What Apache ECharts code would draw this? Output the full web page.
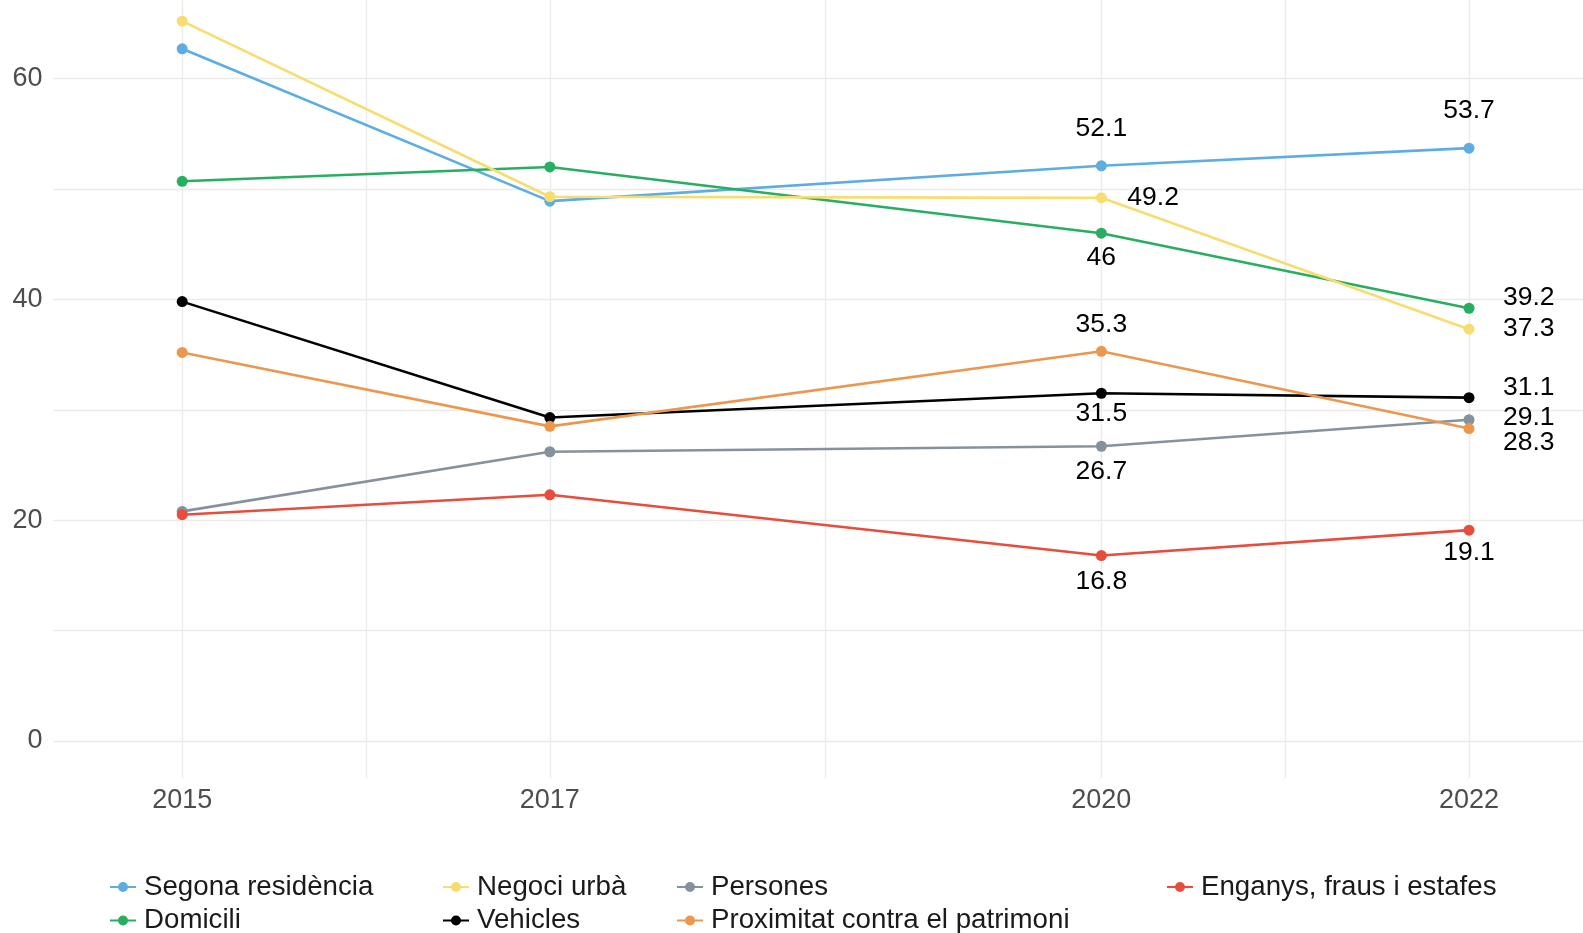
<!DOCTYPE html>
<html>
<head>
<meta charset="utf-8">
<script src="https://cdn.jsdelivr.net/npm/echarts@6/dist/echarts.min.js"></script>
<style>
  html, body { margin: 0; padding: 0; background: #fff; }
  #chart { width: 1583px; height: 933px; }
</style>
</head>
<body>
<div id="chart"></div>
<script>
// dades
var years = [2015, 2017, 2020, 2022];
var segona = [62.7, 48.9, 52.1, 53.7];
var domicili = [50.7, 52.0, 46.0, 39.2];
var negoci = [65.2, 49.3, 49.2, 37.3];
var vehicles = [39.8, 29.3, 31.5, 31.1];
var persones = [20.8, 26.2, 26.7, 29.1];
var proximitat = [35.2, 28.5, 35.3, 28.3];
var enganys = [20.5, 22.3, 16.8, 19.1];
var yTicks = [0, 20, 40, 60];
var yGrid = [0, 10, 20, 30, 40, 50, 60];
var xTicks = [2015, 2017, 2020, 2022];
var xGrid = [2015, 2016, 2017, 2018.5, 2020, 2021, 2022];

var FONT = 'Liberation Sans';

var series_def = [
  { name: 'Segona residència', data: segona, color: '#5DADE2' },
  { name: 'Domicili', data: domicili, color: '#27AE60' },
  { name: 'Negoci urbà', data: negoci, color: '#F7DC6F' },
  { name: 'Vehicles', data: vehicles, color: '#000000' },
  { name: 'Persones', data: persones, color: '#85929E' },
  { name: 'Proximitat contra el patrimoni', data: proximitat, color: '#EB984E' },
  { name: 'Enganys, fraus i estafes', data: enganys, color: '#E74C3C' }
];

// on va cada etiqueta (index del punt -> [dx, dy, align])
var labelPos = {
  'Segona residència': { 2: [0, -37, 'center'], 3: [0, -37, 'center'] },
  'Domicili': { 2: [0, 25, 'center'], 3: [34, -11, 'left'] },
  'Negoci urbà': { 2: [26, 0, 'left'], 3: [34, -1, 'left'] },
  'Vehicles': { 2: [0, 20, 'center'], 3: [34, -10, 'left'] },
  'Persones': { 2: [0, 25, 'center'], 3: [34, -2, 'left'] },
  'Proximitat contra el patrimoni': { 2: [0, -27, 'center'], 3: [34, 14, 'left'] },
  'Enganys, fraus i estafes': { 2: [0, 26, 'center'], 3: [0, 23, 'center'] }
};

// posicio de cada llegenda (esquerra, dalt)
var legendSlots = [[105, 868], [105, 901.5], [438, 868], [438, 901.5], [672, 868], [672, 901.5], [1162, 868]];

var series = series_def.map(function (s) {
  var pos = labelPos[s.name] || {};
  return {
    name: s.name,
    type: 'line',
    symbol: 'circle',
    symbolSize: 11,
    clip: false,
    color: s.color,
    lineStyle: { width: 2.6, color: s.color },
    itemStyle: { color: s.color },
    data: years.map(function (y, i) {
      var item = { value: [y, s.data[i]] };
      if (pos[i]) {
        item.label = {
          show: true,
          position: 'inside',
          offset: [pos[i][0], pos[i][1]],
          align: pos[i][2],
          verticalAlign: 'middle',
          color: '#000',
          fontFamily: FONT,
          fontSize: 26.5,
          formatter: function (p) { return String(p.value[1]); }
        };
      }
      return item;
    })
  };
});

var legends = series_def.map(function (s, i) {
  return {
    data: [s.name],
    left: legendSlots[i][0],
    top: legendSlots[i][1],
    itemWidth: 26,
    itemHeight: 10,
    icon: 'path://M0,4 L9,4 L9,6 L0,6 Z M17,4 L26,4 L26,6 L17,6 Z M8,5 A5,5 0 1 1 18,5 A5,5 0 1 1 8,5 Z',
    selectedMode: false,
    textStyle: { fontFamily: FONT, fontSize: 27.7, color: '#1a1a1a', lineHeight: 28, padding: [0, 0, 0, 3] }
  };
});

var chart = echarts.init(document.getElementById('chart'));
chart.setOption({
  animation: false,
  backgroundColor: '#fff',
  grid: { left: 53.5, right: 0, top: 0, bottom: 155, containLabel: false },
  xAxis: {
    type: 'value',
    min: 2014.3,
    max: 2022.62,
    axisLine: { show: false },
    axisTick: { show: false, customValues: xGrid },
    axisLabel: {
      customValues: xTicks,
      margin: 9,
      fontFamily: FONT,
      fontSize: 27,
      color: '#4d4d4d',
      formatter: function (v) { return String(v); }
    },
    splitLine: { show: true, lineStyle: { color: '#ebebeb', width: 1.4 } }
  },
  yAxis: {
    type: 'value',
    min: -3.35,
    max: 67.12,
    axisLine: { show: false },
    axisTick: { show: false, customValues: yGrid },
    axisLabel: {
      customValues: yTicks,
      margin: 11,
      fontFamily: FONT,
      fontSize: 27,
      color: '#4d4d4d'
    },
    splitLine: { show: true, lineStyle: { color: '#ebebeb', width: 1.4 } }
  },
  legend: legends,
  series: series
});
</script>
</body>
</html>
